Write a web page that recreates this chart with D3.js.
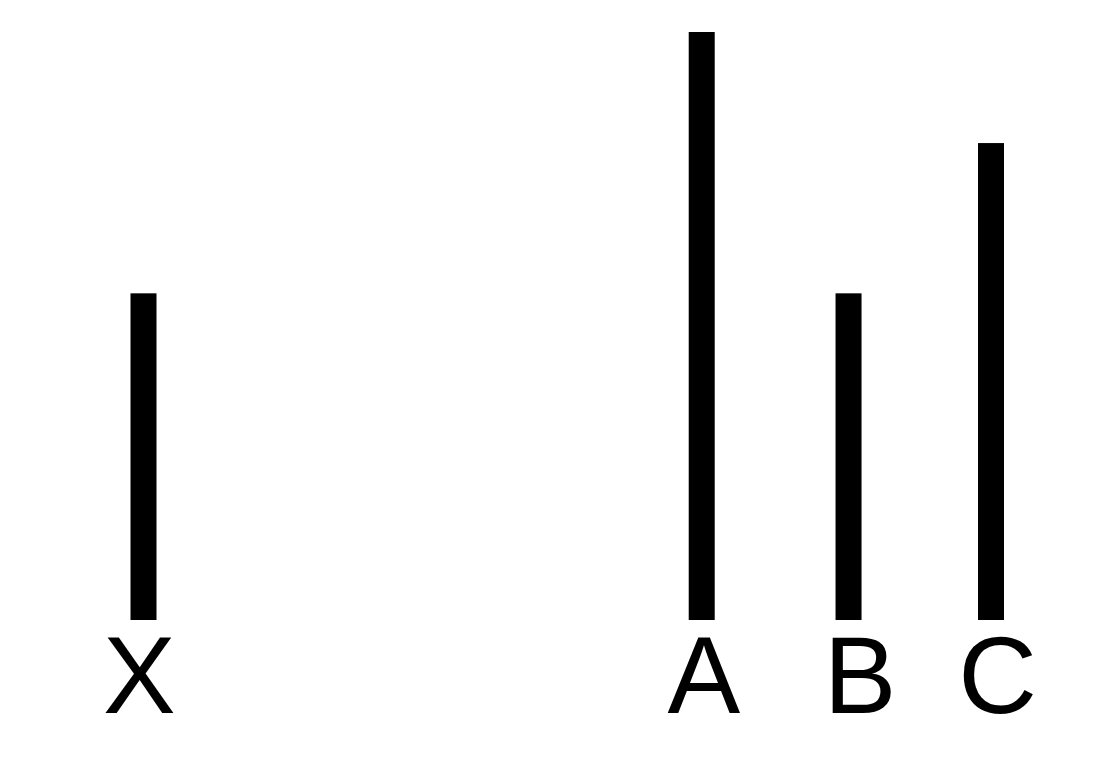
<!DOCTYPE html>
<html><head><meta charset="utf-8">
<script src="https://cdn.jsdelivr.net/npm/d3@7"></script>
<style>html,body{margin:0;padding:0;background:#fff;}</style>
</head><body>
<svg id="chart" width="1112" height="774"></svg>
<script>
const categories = ["X", "A", "B", "C"];
const positions = [0, 3.84, 4.85, 5.83];
const labelPositions = [-0.028, 3.855, 4.93, 5.875];
const values = [5, 9, 5, 7.3];

const svg = d3.select("#chart");
const x = d3.scaleLinear().domain([0, 5.83]).range([143.5, 991]);
const y = d3.scaleLinear().domain([0, 9]).range([620, 32]);
const barW = 26;

svg.selectAll("rect.bar").data(categories).join("rect")
  .attr("class", "bar")
  .attr("x", (d, i) => x(positions[i]) - barW / 2)
  .attr("y", (d, i) => y(values[i]))
  .attr("width", barW)
  .attr("height", (d, i) => y(0) - y(values[i]))
  .attr("fill", "#000");

svg.selectAll("text.lab").data(categories).join("text")
  .attr("class", "lab")
  .attr("x", (d, i) => x(labelPositions[i]))
  .attr("y", 713)
  .attr("text-anchor", "middle")
  .attr("font-family", "Liberation Sans, Arial, sans-serif")
  .attr("font-size", 109)
  .attr("fill", "#000")
  .text(d => d);
</script>
</body></html>
